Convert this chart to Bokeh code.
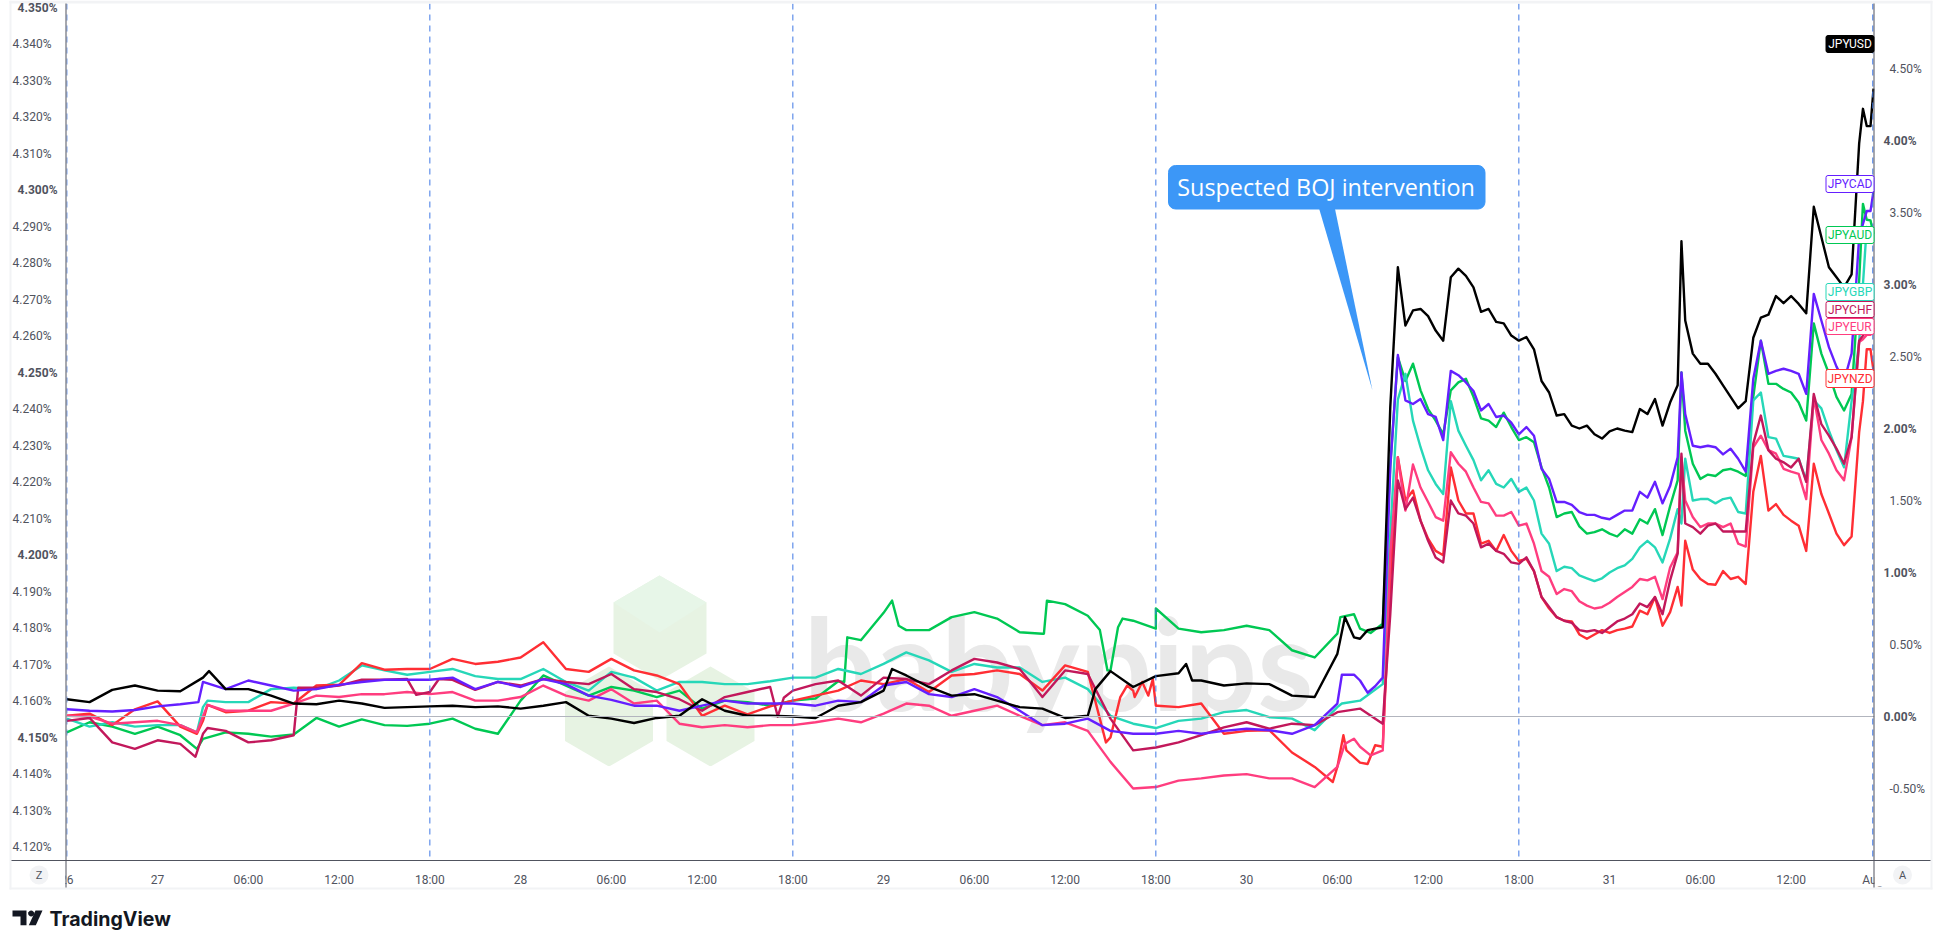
import math
from bokeh.plotting import figure
from bokeh.layouts import column
from bokeh.embed import file_html
from bokeh.resources import INLINE
from bokeh.models import LinearAxis, Range1d, FixedTicker, Span, Label, PolyAnnotation, BoxAnnotation

# hours since 27 Jul 00:00
hours = [-6 + 1.5 * i for i in range(59)] + [81.5 + 0.5 * i for i in range(39)] + [100.75] + \
        [101 + 0.5 * i for i in range(24)] + [112.75, 113, 113.25, 113.45]

JPYUSD = [.12,.10,.185,.215,.18,.175,.27,.19,.19,.145,.09,.085,.11,.09,.06,.065,
          .07,.075,.065,.07,.055,.075,.10,.005,-.015,-.045,-.01,.005,.12,.04,.005,.005,0,-.01,
          .075,.10,.18,.285,.205,.145,.155,.11,.065,.055,-.01,.005,.315,.205,.28,.30,.25,.215,.23,
          .225,.145,.135,.435,.54,.62,
          2.15,3.12,2.715,2.82,2.83,2.78,2.68,2.61,3.05,3.11,3.06,2.98,2.81,2.83,2.74,2.73,2.645,2.61,2.635,
          2.55,2.33,2.25,2.09,2.10,2.02,2.0,2.02,1.96,1.93,1.98,2.0,1.985,1.975,2.135,2.10,2.205,2.02,2.18,2.3,
          3.3,2.75,2.52,2.45,2.45,2.38,2.30,2.22,2.14,2.19,2.63,2.77,2.79,2.92,2.87,2.92,2.865,2.80,
          3.54,3.33,3.12,3.05,2.98,3.07,3.98,4.22,4.10,4.10,4.36]
JPYCAD = [.05,.04,.035,.045,.07,.085,.24,.19,.25,.215,.18,.19,.22,.24,.255,.255,
          .255,.27,.19,.24,.205,.26,.225,.145,.115,.075,.075,.04,.075,.11,.09,.09,.09,.075,
          .11,.10,.215,.24,.155,.135,.19,.135,.04,-.06,-.05,-.015,-.10,-.12,-.12,-.10,-.12,-.10,-.085,
          -.095,-.12,-.06,.09,.25,.27,
          1.73,2.51,2.195,2.17,2.205,2.10,2.08,1.92,2.40,2.37,2.32,2.26,2.125,2.17,2.08,2.09,2.04,1.96,2.01,
          1.95,1.72,1.65,1.49,1.49,1.47,1.42,1.40,1.40,1.38,1.37,1.40,1.43,1.43,1.56,1.52,1.63,1.48,1.60,1.80,
          2.39,2.10,1.88,1.87,1.88,1.87,1.82,1.86,1.79,1.70,2.345,2.61,2.38,2.40,2.415,2.40,2.38,2.24,
          2.935,2.75,2.565,2.43,2.33,2.52,3.33,3.42,3.51,3.51,3.65]
JPYAUD = [-.11,-.04,-.07,-.12,-.07,-.13,-.155,-.11,-.12,-.14,-.125,-.01,-.07,-.02,-.06,-.065,
          -.05,-.015,-.085,-.12,.11,.285,.215,.145,.205,.18,.135,.18,.055,.11,.10,.075,.11,.125,
          .245,.53,.72,.60,.60,.69,.725,.68,.585,.575,.78,.70,.32,.665,.61,.61,.585,.60,.63,
          .60,.46,.41,.575,.61,.645,
          1.75,2.495,2.33,2.45,2.265,2.135,2.055,1.96,2.265,2.32,2.345,2.22,2.07,2.055,2.01,2.11,2.01,1.92,1.94,
          1.905,1.73,1.59,1.385,1.41,1.42,1.32,1.27,1.28,1.30,1.27,1.25,1.30,1.27,1.37,1.34,1.44,1.26,1.46,1.64,
          2.39,1.985,1.755,1.65,1.68,1.67,1.71,1.72,1.70,1.67,2.22,2.61,2.31,2.31,2.275,2.25,2.18,2.055,
          2.73,2.52,2.38,2.22,2.125,2.24,3.03,3.56,3.45,3.445,3.35]
JPYGBP = [-.015,-.07,-.04,-.07,-.06,-.06,.065,.10,.10,.19,.2,.19,.25,.355,.32,.29,
          .31,.33,.28,.26,.26,.33,.24,.18,.31,.27,.18,.24,.24,.225,.225,.245,.27,.27,
          .33,.295,.365,.445,.39,.31,.365,.34,.34,.24,.27,.19,.005,-.05,-.08,-.03,-.015,.03,.045,
          -.005,-.015,-.095,.065,.11,.225,
          1.27,2.2,2.38,2.055,1.87,1.71,1.615,1.545,2.19,1.985,1.88,1.78,1.64,1.71,1.615,1.59,1.65,1.56,1.59,
          1.50,1.27,1.20,1.01,1.04,1.03,.98,.96,.94,.96,1.0,1.03,1.05,1.095,1.175,1.22,1.175,1.07,1.235,1.44,
          1.34,1.79,1.50,1.51,1.51,1.48,1.51,1.52,1.42,1.41,2.195,2.25,1.94,1.93,1.81,1.80,1.79,1.64,
          2.195,2.14,1.985,1.85,1.73,2.19,2.6,3.0,3.4,3.35,3.4]
JPYNZD = [.005,.02,-.06,.05,.105,-.07,-.03,.03,.04,.10,.09,.215,.22,.37,.325,.33,
          .33,.40,.365,.38,.41,.515,.33,.31,.40,.32,.285,.225,.005,.075,.015,.07,.11,.145,
          .18,.25,.225,.26,.17,.285,.295,.32,.295,.18,.355,.31,-.145,.18,.075,.065,.09,-.12,-.10,
          -.095,-.25,-.35,-.35,-.32,-.21,
          .94,1.80,1.5,1.57,1.36,1.235,1.15,1.12,1.73,1.50,1.41,1.41,1.20,1.22,1.15,1.26,1.15,1.08,1.095,
          1.01,.83,.75,.69,.665,.66,.57,.54,.57,.60,.58,.60,.61,.625,.735,.71,.83,.63,.725,.90,
          .77,1.22,1.02,.955,.92,.915,1.01,.955,.97,.92,1.56,1.81,1.43,1.475,1.40,1.36,1.325,1.15,
          1.755,1.545,1.41,1.27,1.19,1.25,1.975,2.19,2.55,2.55,2.4]
JPYEUR = [.005,0,-.05,-.04,-.03,-.06,0,.04,.04,.04,.09,.145,.135,.155,.155,.17,
          .155,.17,.11,.11,.135,.215,.145,.11,.19,.09,.11,-.05,-.075,-.06,-.075,-.06,-.06,-.04,
          -.015,-.04,.02,.09,.075,.005,.04,.075,.005,-.06,-.04,-.10,-.315,-.50,-.49,-.445,-.43,-.41,-.40,
          -.43,-.43,-.49,-.35,-.21,-.235,
          1.13,1.80,1.43,1.75,1.59,1.49,1.385,1.36,1.835,1.755,1.70,1.59,1.49,1.48,1.395,1.395,1.42,1.325,1.34,
          1.20,1.01,.97,.85,.885,.87,.80,.77,.75,.76,.79,.83,.865,.90,.955,.945,.97,.815,1.035,1.14,
          1.80,1.50,1.385,1.315,1.34,1.34,1.315,1.34,1.20,1.18,1.87,1.95,1.85,1.825,1.72,1.70,1.685,1.51,
          2.22,1.92,1.825,1.71,1.64,1.94,2.6,2.62,2.65,2.65,2.7]
JPYCHF = [-.03,-.01,-.18,-.225,-.165,-.19,-.12,-.10,-.18,-.165,-.13,.2,.215,.255,.255,.26,
          .17,.255,.185,.24,.215,.26,.24,.225,.295,.19,.17,.12,.04,.135,.17,.205,.18,.225,
          .25,.145,.27,.26,.225,.32,.40,.375,.33,.135,.32,.295,-.015,-.235,-.215,-.18,-.13,-.075,-.04,
          -.085,-.05,-.06,.03,.055,-.05,
          .71,1.64,1.44,1.52,1.36,1.22,1.105,1.07,1.50,1.41,1.395,1.34,1.175,1.20,1.15,1.13,1.07,1.06,1.105,
          1.01,.83,.76,.69,.665,.65,.60,.59,.60,.58,.62,.66,.68,.71,.785,.76,.83,.71,.945,1.13,
          1.825,1.34,1.315,1.27,1.325,1.34,1.285,1.285,1.285,1.285,1.895,2.09,1.85,1.79,1.765,1.73,1.79,1.63,
          2.24,2.03,1.95,1.86,1.755,1.94,2.61,2.645,2.7,2.75,2.8]

# sharp turns that fall between the regular reading points: (hour, value)
usd_turns = [(3.4, .315), (48.56, .33), (62, .19), (68, .365), (68.4, .25), (78.5, .69), (79.1, .55), (80, .60)]
cad_turns = [(2.7, .10), (78.3, .29), (79.1, .29), (80, .165), (80.5, .21)]
aud_turns = [(2.6, -.225), (45.4, .24), (45.6, .55), (48.56, .805), (49, .63), (58.6, .575), (58.8, .805),
             (62.3, .60), (62.8, .32), (63.5, .62), (63.8, .68), (66, .75), (78.2, .69), (79.1, .71), (80.2, .58)]
gbp_turns = [(2.6, -.11), (3.3, .11), (78.3, .09)]
nzd_turns = [(2.6, -.12), (3.3, .08), (62.7, -.18), (63.65, .135), (64.1, .215), (64.6, .135), (65.1, .24),
             (65.5, .145), (65.8, .26), (66.1, .075), (77.7, -.455), (78.4, -.13), (78.6, -.235), (80, -.33),
             (80.5, -.2)]
eur_turns = [(2.6, -.11), (3.3, .08), (78.5, -.19), (79.1, -.155), (80.2, -.27)]
chf_turns = [(2.5, -.28), (3.3, -.08), (9.3, .2), (17.1, .15), (18.6, .26), (41, 0), (41.4, .13)]

# drawn bottom to top
series = [("JPYAUD", JPYAUD, aud_turns, "#00C853"), ("JPYGBP", JPYGBP, gbp_turns, "#26D7B8"),
          ("JPYNZD", JPYNZD, nzd_turns, "#FF2E34"), ("JPYEUR", JPYEUR, eur_turns, "#FF3D7F"),
          ("JPYCHF", JPYCHF, chf_turns, "#C2185B"), ("JPYCAD", JPYCAD, cad_turns, "#651FFF"),
          ("JPYUSD", JPYUSD, usd_turns, "#000000")]
for _n, _v, _t, _c in series:
    assert len(_v) == len(hours), (_n, len(_v), len(hours))

time_ticks = [-6, 0, 6, 12, 18, 24, 30, 36, 42, 48, 54, 60, 66, 72, 78, 84, 90, 96, 102, 108, 113.4]
time_names = ["26", "27", "06:00", "12:00", "18:00", "28", "06:00", "12:00", "18:00", "29", "06:00", "12:00",
              "18:00", "30", "06:00", "12:00", "18:00", "31", "06:00", "12:00", "Aug"]
left_ticks = [4.12, 4.13, 4.14, 4.16, 4.17, 4.18, 4.19, 4.21, 4.22, 4.23, 4.24, 4.26, 4.27, 4.28, 4.29,
              4.31, 4.32, 4.33, 4.34]
left_bold = [4.15, 4.20, 4.25, 4.30, 4.35]
right_ticks = [-0.5, 0.5, 1.5, 2.5, 3.5, 4.5]
right_bold = [0, 1, 2, 3, 4]
session_breaks = [-6, 18, 42, 66, 90, 113.4]
tag_rows = [("JPYUSD", 35, 52), ("JPYCAD", 175, 192), ("JPYAUD", 226, 243), ("JPYGBP", 283, 300),
            ("JPYCHF", 301, 317), ("JPYEUR", 318, 334), ("JPYNZD", 369, 387)]

# picture position -> axis values (for the watermark under the lines)
X = lambda px: (px - 157.1) / 15.125
Y = lambda py: (716 - py) / 144

TXT = "#50535E"
FONT = "Roboto"
W, H = 1940, 948

p = figure(output_backend="svg", toolbar_location=None, frame_width=1808, frame_height=857,
           min_border_left=66, min_border_right=66, min_border_top=3, min_border_bottom=88,
           x_range=Range1d(X(66), X(1874)), y_range=Range1d(Y(860), Y(3)),
           y_axis_location="right", background_fill_color="white",
           border_fill_color="white", outline_line_color=None)
p.frame_align = False
p.grid.visible = False
p.extra_y_ranges = {"left": Range1d(4.15 - 123 / 3650, 4.15 + 734 / 3650)}

xa = p.xaxis[0]
xa.ticker = FixedTicker(ticks=time_ticks)
xa.major_label_overrides = dict(zip(time_ticks, time_names))
xa.major_label_standoff = 6

ra = p.yaxis[0]
ra.ticker = FixedTicker(ticks=right_ticks)
ra.major_label_overrides = {t: f"{t:.2f}%" for t in right_ticks}
la = LinearAxis(y_range_name="left", ticker=FixedTicker(ticks=left_ticks))
la.major_label_overrides = {t: f"{t:.3f}%" for t in left_ticks}
p.add_layout(la, "left")
ra.major_label_standoff = 9
la.major_label_standoff = 9
for a in (xa, ra, la):
    a.axis_line_color = None
    a.major_tick_line_color = None
    a.minor_tick_line_color = None
    a.major_label_text_color = TXT
    a.major_label_text_font = FONT
    a.major_label_text_font_size = "12px"

# watermark
HEX = "#E7F3E3"
p.add_layout(PolyAnnotation(xs=[X(v) for v in (659, 706, 706, 659, 613, 613)],
                            ys=[Y(v) for v in (575, 602, 653, 680, 653, 602)],
                            fill_color=HEX, fill_alpha=1, line_color=None, level="underlay"))
p.add_layout(PolyAnnotation(xs=[X(v) for v in (659, 706, 659, 613)], ys=[Y(v) for v in (575, 602, 632, 602)],
                            fill_color="#E7F6E8", fill_alpha=1, line_color=None, level="underlay"))
for cx in (608.5, 710):
    p.add_layout(PolyAnnotation(xs=[X(cx + d) for d in (0, 46.5, 46.5, 0, -46.5, -46.5)],
                                ys=[Y(v) for v in (663, 690, 742, 769, 742, 690)],
                                fill_color=HEX, fill_alpha=1, line_color="white", line_width=5, line_alpha=1,
                                level="underlay"))
p.add_layout(Label(x=X(803), y=Y(661), text="babypips", text_font="Lato", text_font_style="bold",
                   text_font_size="128px", text_color="#E9E9E9", text_baseline="alphabetic", text_align="left",
                   level="underlay"))

p.add_layout(Span(location=0, dimension="width", line_color="#B2B5BE", line_width=1))
for h in session_breaks:
    p.add_layout(Span(location=h, dimension="height", line_color="#3F78E6", line_width=1, line_dash="6 5"))

for name, vals, turns, col in series:
    pts = sorted(list(zip(hours, vals)) + turns)
    p.line([a for a, _ in pts], [b for _, b in pts], line_color=col, line_width=2.4, line_join="round", name=name)

# overlay in picture pixels for what lies over the lines and around the frame
o = figure(output_backend="svg", toolbar_location=None, width=W, height=H, min_border=0,
           x_range=Range1d(0, W), y_range=Range1d(H, 0), x_axis_location=None, y_axis_location=None,
           background_fill_alpha=0, border_fill_alpha=0, outline_line_color=None, margin=(-H, 0, 0, 0))
o.frame_align = False
o.grid.visible = False

def rect(x0, y0, x1, y1, col):
    o.quad(left=x0, right=x1, top=y0, bottom=y1, fill_color=col, line_color=None)

rect(40, 862, 65, 886, "white")       # cut-off "26"
rect(1874, 862, 1890, 886, "white")   # cut-off "Aug"
STRIPE = "#F2F3F5"
rect(9, 0, 1932, 3, STRIPE)
rect(9, 0, 11, 889, STRIPE)
rect(1930, 0, 1932, 889, STRIPE)
rect(9, 887, 1932, 889, STRIPE)
rect(11, 859.5, 1930, 860.5, TXT)
rect(65, 3, 66, 887, TXT)
rect(1873, 3, 1874, 887, TXT)

# emphasized tick labels
for v in left_bold:
    o.add_layout(Label(x=57, y=737 - (v - 4.15) * 3650, text=f"{v:.3f}%", text_font=FONT, text_font_style="bold",
                       text_font_size="12px", text_color=TXT, text_align="right", text_baseline="middle"))
for v in right_bold:
    o.add_layout(Label(x=1883, y=716 - v * 144, text=f"{v:.2f}%", text_font=FONT, text_font_style="bold",
                       text_font_size="12px", text_color=TXT, text_align="left", text_baseline="middle"))

# series tags
colors = {n: c for n, _, _, c in series}
for name, y0, y1 in tag_rows:
    black = name == "JPYUSD"
    o.add_layout(BoxAnnotation(left=1825.5, right=1873.5, top=y0, bottom=y1,
                               fill_color="black" if black else "white", fill_alpha=1,
                               line_color=colors[name], line_alpha=1, line_width=1, border_radius=2))
    o.add_layout(Label(x=1849.5, y=(y0 + y1) / 2, text=name, text_font=FONT, text_font_size="12px",
                       text_color="white" if black else colors[name], text_align="center", text_baseline="middle"))

# callout
BLUE = "#3C97F7"
o.patch([1318, 1334, 1372], [206, 206, 390], fill_color=BLUE, line_color=None)
o.add_layout(BoxAnnotation(left=1168, right=1484.5, top=165, bottom=208.5, fill_color=BLUE, fill_alpha=1,
                           line_color=BLUE, line_alpha=1, border_radius=7))
o.add_layout(Label(x=1325.5, y=186, text="Suspected BOJ intervention", text_font="Open Sans",
                   text_font_size="23.4px", text_color="white", text_align="center", text_baseline="middle"))

# bottom buttons
for txt, cx in (("Z", 38.5), ("A", 1902)):
    o.circle(x=cx, y=874.5, radius=9.5, fill_color=STRIPE, line_color=None)
    o.add_layout(Label(x=cx, y=874.5, text=txt, text_font=FONT, text_font_size="11px", text_color=TXT,
                       text_align="center", text_baseline="middle"))

# TradingView logo
INK = "#131722"
def logo(zx, zy):
    o.patch([a / 3 for a in zx], [840 + b / 3 for b in zy], fill_color=INK, line_color=None)
logo([36, 78, 78, 60, 60, 36], [210, 210, 254, 254, 228, 228])
logo([92 + 9 * math.cos(i * math.pi / 8) for i in range(16)], [219 + 9 * math.sin(i * math.pi / 8) for i in range(16)])
logo([105, 126, 106, 85], [210, 210, 254, 254])
o.add_layout(Label(x=49, y=918, text="TradingView", text_font="Inter", text_font_style="bold",
                   text_font_size="19.6px", text_color=INK, text_align="left", text_baseline="middle"))

open("out.html", "w").write(file_html(column(p, o, spacing=0), INLINE))
